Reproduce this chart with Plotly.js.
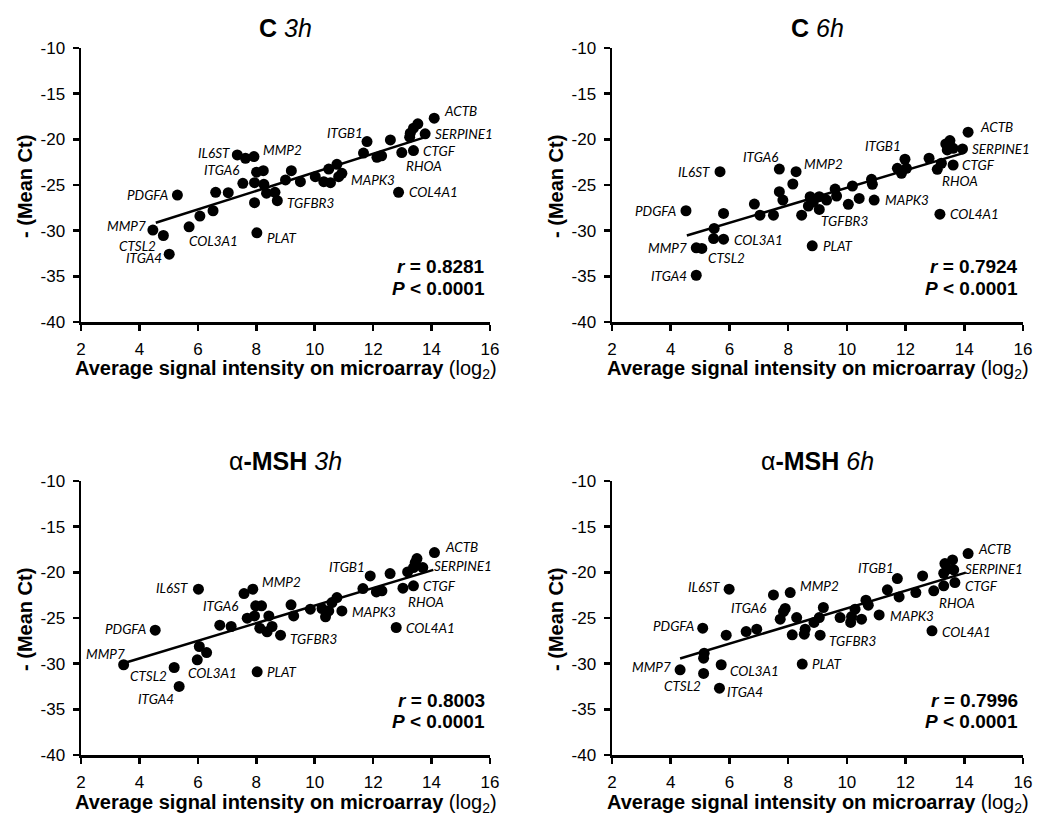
<!DOCTYPE html>
<html>
<head>
<meta charset="utf-8">
<script src="https://cdn.plot.ly/plotly-3.0.1.min.js"></script>
<style>html,body{margin:0;padding:0;background:#fff;}#chart{width:1037px;height:816px;}</style>
</head>
<body>
<div id="chart"></div>
<script>
// ---------- DATA ----------
// Panel C 3h
const c3Gene = ["ACTB","","","","","SERPINE1","ITGB1","","","","","CTGF","RHOA","COL4A1","MAPK3","","","","","","","","","","TGFBR3","","","","","","","PLAT","","MMP2","","IL6ST","ITGA6","","","","","COL3A1","PDGFA","MMP7","CTSL2","ITGA4"];
const c3X = [14.09,13.53,13.38,13.27,13.25,13.78,11.79,12.59,11.67,12.13,12.29,13.38,12.98,12.87,10.93,10.76,10.48,10.31,10.54,10.82,10.02,9.51,9.2,9.0,8.72,8.64,8.35,8.26,7.94,8.01,8.24,8.02,7.94,7.92,7.63,7.35,7.54,7.04,6.61,6.52,6.07,5.7,5.3,4.46,4.82,5.02];
const c3Y = [-17.68,-18.3,-18.78,-19.33,-19.77,-19.4,-20.24,-20.06,-21.5,-21.97,-21.8,-21.23,-21.45,-25.8,-23.72,-22.73,-23.25,-24.64,-24.75,-24.09,-24.09,-24.64,-23.43,-24.45,-26.72,-25.8,-25.9,-24.93,-24.75,-23.6,-23.43,-30.23,-26.94,-21.89,-22.07,-21.71,-24.82,-25.84,-25.8,-27.82,-28.4,-29.58,-26.1,-29.94,-30.53,-32.58];
const c3FitX = [4.56, 13.84];
const c3FitY = [-29.14, -19.7];
const c3R = "0.8281";

// Panel C 6h
const c6Gene = ["ACTB","","","","","SERPINE1","CTGF","RHOA","","","ITGB1","","","","","","MAPK3","","","","","","","","TGFBR3","","","","","PLAT","MMP2","","ITGA6","","","","","","","IL6ST","COL3A1","","","PDGFA","MMP7","CTSL2","ITGA4","COL4A1"];
const c6X = [14.13,13.51,13.37,13.42,13.62,13.94,13.62,13.08,13.22,12.8,11.98,12.03,11.72,11.86,10.84,10.87,10.93,10.42,10.19,10.05,9.6,9.65,9.31,9.06,9.06,8.75,8.69,8.86,8.46,8.82,8.27,8.16,7.7,7.7,7.82,7.5,7.04,6.85,5.8,5.68,5.8,5.46,5.48,4.52,4.87,5.06,4.87,13.17];
const c6Y = [-19.22,-20.14,-20.5,-21.16,-20.98,-21.05,-22.81,-23.28,-22.62,-22.07,-22.18,-23.17,-23.17,-23.72,-24.38,-24.93,-26.65,-26.47,-25.11,-27.12,-25.44,-26.21,-26.65,-26.28,-27.67,-26.28,-27.3,-26.83,-28.3,-31.66,-23.54,-24.89,-23.25,-25.73,-26.65,-28.3,-28.3,-27.09,-28.11,-23.54,-30.93,-30.86,-29.76,-27.82,-31.88,-31.95,-34.88,-28.19];
const c6FitX = [4.55, 14.02];
const c6FitY = [-30.53, -21.45];
const c6R = "0.7924";

// Panel alpha-MSH 3h
const m3Gene = ["ACTB","","","","SERPINE1","","ITGB1","","","","","CTGF","RHOA","COL4A1","MAPK3","","","","","","","","","TGFBR3","","","","","","","ITGA6","","MMP2","","PLAT","","","","","COL3A1","IL6ST","PDGFA","MMP7","CTSL2","ITGA4"];
const m3X = [14.1,13.5,13.44,13.38,13.7,13.18,11.9,12.58,11.65,12.11,12.3,13.38,13.02,12.79,10.93,10.76,10.59,10.48,10.37,10.25,9.85,9.28,9.19,8.83,8.54,8.37,8.43,8.18,7.98,7.94,7.69,8.12,7.88,7.58,8.03,7.14,6.75,6.3,6.05,5.98,6.02,4.54,3.46,5.19,5.36];
const m3Y = [-17.84,-18.49,-18.93,-19.48,-19.48,-19.95,-20.39,-20.13,-21.78,-22.14,-22.03,-21.48,-21.74,-26.04,-24.22,-22.76,-23.31,-24.22,-24.87,-23.96,-24.04,-24.77,-23.56,-26.88,-25.93,-26.51,-24.77,-23.67,-23.67,-24.77,-25.02,-26.11,-21.85,-22.32,-30.89,-25.93,-25.79,-28.78,-28.12,-29.58,-21.85,-26.33,-30.12,-30.42,-32.49];
const m3FitX = [3.54, 14.06];
const m3FitY = [-29.87, -19.73];
const m3R = "0.8003";

// Panel alpha-MSH 6h
const m6Gene = ["ACTB","","","","SERPINE1","","CTGF","","RHOA","","ITGB1","","","","","","MAPK3","","","","","","","","","TGFBR3","","","","","MMP2","","","ITGA6","","","","","IL6ST","PLAT","COL3A1","","","PDGFA","MMP7","CTSL2","ITGA4","COL4A1"];
const m6X = [14.13,13.6,13.34,13.42,13.64,13.3,13.68,13.3,12.96,12.58,11.72,11.38,11.78,12.35,10.65,10.73,11.1,10.5,10.28,10.16,10.13,9.77,9.2,9.06,8.88,9.09,8.58,8.55,8.29,8.14,8.07,7.9,7.84,7.73,7.5,6.93,6.57,5.89,5.99,8.48,5.72,5.14,5.12,5.09,4.32,5.12,5.66,12.9];
const m6Y = [-17.95,-18.64,-19.04,-19.66,-19.73,-20.1,-21.12,-21.48,-22.03,-20.39,-20.68,-21.92,-22.69,-22.21,-23.05,-23.6,-24.66,-25.13,-24.04,-24.84,-25.49,-24.95,-23.85,-24.95,-25.49,-26.88,-26.22,-26.77,-24.95,-26.84,-22.21,-23.96,-24.29,-25.13,-22.47,-26.22,-26.48,-26.88,-21.85,-30.05,-30.12,-28.85,-29.4,-26.11,-30.67,-31.07,-32.68,-26.4];
const m6FitX = [4.32, 14.05];
const m6FitY = [-29.43, -20.03];
const m6R = "0.7996";

// Tick labels
const xTickVals = [2, 4, 6, 8, 10, 12, 14, 16];
const xTickText = ["2", "4", "6", "8", "10", "12", "14", "16"];
const yTickVals = [-40, -35, -30, -25, -20, -15, -10];
const yTickText = ["-40", "-35", "-30", "-25", "-20", "-15", "-10"];

const panelTitles = ["<b>C</b> <i>3h</i>", "<b>C</b> <i>6h</i>", "α<b>-MSH</b> <i>3h</i>", "α<b>-MSH</b> <i>6h</i>"];
const xTitle = "<b>Average signal intensity on microarray</b> (log<sub>2</sub>)";
const yTitle = "<b>- (Mean Ct)</b>";
const pText = "<b><i>P</i> < 0.0001</b>";

// ---------- LABEL OFFSETS (px: anchor, dx, dy down-positive) ----------
const off1 = {ACTB:["left",8,-7],SERPINE1:["left",8,0],ITGB1:["right",-2,-9],CTGF:["left",8,0],RHOA:["left",2,13],MAPK3:["left",7,7],COL4A1:["left",8,0],TGFBR3:["left",8,2],PLAT:["left",8,5],IL6ST:["right",-5,-2],MMP2:["left",7,-7],ITGA6:["right",-2,-13],PDGFA:["right",-7,0],MMP7:["right",-5,-4],CTSL2:["right",-5,10],COL3A1:["left",-2,14],ITGA4:["right",-5,4]};
const off2 = {ACTB:["left",10,-5],SERPINE1:["left",7,0],ITGB1:["right",-2,-13],CTGF:["left",7,0],RHOA:["left",3,12],MAPK3:["left",9,0],COL4A1:["left",8,0],TGFBR3:["left",0,12],PLAT:["left",9,0],IL6ST:["right",-8,0],MMP2:["left",6,-8],ITGA6:["right",1,-12],PDGFA:["right",-8,0],MMP7:["right",-7,0],CTSL2:["left",4,10],COL3A1:["left",8,1],ITGA4:["right",-7,1]};
const off3 = {ACTB:["left",9,-6],SERPINE1:["left",9,-2],ITGB1:["right",-3,-9],CTGF:["left",8,0],RHOA:["left",3,14],MAPK3:["left",8,1],COL4A1:["left",8,0],TGFBR3:["left",7,4],PLAT:["left",8,0],IL6ST:["right",-8,-1],MMP2:["left",7,-7],ITGA6:["right",-7,-12],PDGFA:["right",-7,-1],MMP7:["right",3,-11],CTSL2:["right",-5,8],COL3A1:["left",-11,13],ITGA4:["right",-3,13]};
const off4 = {ACTB:["left",8,-5],SERPINE1:["left",9,-1],ITGB1:["right",-1,-11],CTGF:["left",8,3],RHOA:["left",3,12],MAPK3:["left",9,1],COL4A1:["left",8,1],TGFBR3:["left",7,6],PLAT:["left",8,0],IL6ST:["right",-7,-2],MMP2:["left",8,-7],ITGA6:["right",-12,-11],PDGFA:["right",-7,-2],MMP7:["right",-7,-3],CTSL2:["right",-1,13],COL3A1:["left",7,6],ITGA4:["left",6,4]};

// ---------- LAYOUT GEOMETRY ----------
const W = 1037, H = 816;
const panels = [
  {gene:c3Gene, x:c3X, y:c3Y, fx:c3FitX, fy:c3FitY, r:c3R, off:off1, px:[81,490], py:[48,322]},
  {gene:c6Gene, x:c6X, y:c6Y, fx:c6FitX, fy:c6FitY, r:c6R, off:off2, px:[612,1023], py:[48,322]},
  {gene:m3Gene, x:m3X, y:m3Y, fx:m3FitX, fy:m3FitY, r:m3R, off:off3, px:[81,490], py:[481,755]},
  {gene:m6Gene, x:m6X, y:m6Y, fx:m6FitX, fy:m6FitY, r:m6R, off:off4, px:[612,1023], py:[481,755]}
];

const tickFont = {family:"Liberation Sans, Arial, sans-serif", size:17, color:"#000"};
const labelFont = {family:"Lato, 'Open Sans', sans-serif", size:13.5, color:"#000"};
const traces = [];
const annotations = [];
const layout = {
  width:W, height:H, margin:{l:0,r:0,t:0,b:0}, showlegend:false,
  paper_bgcolor:"#fff", plot_bgcolor:"rgba(0,0,0,0)",
  font:{family:"Liberation Sans, Arial, sans-serif", color:"#000"}
};

panels.forEach((p, i) => {
  const n = i === 0 ? "" : String(i + 1);
  const xa = "x" + n, ya = "y" + n;
  const axBase = {showline:true, linecolor:"#000", linewidth:2.5, ticks:"outside", ticklen:6, tickwidth:2.5,
    tickcolor:"#000", showgrid:false, zeroline:false, tickfont:tickFont, fixedrange:true, ticklabelstandoff:4,
    tickmode:"array"};
  layout["xaxis" + n] = Object.assign({}, axBase, {range:[2,16], tickvals:xTickVals, ticktext:xTickText, anchor:ya,
    domain:[p.px[0]/W, p.px[1]/W]});
  layout["yaxis" + n] = Object.assign({}, axBase, {range:[-40,-10], tickvals:yTickVals, ticktext:yTickText, anchor:xa,
    domain:[1 - p.py[1]/H, 1 - p.py[0]/H]});

  traces.push({type:"scatter", mode:"lines", x:p.fx, y:p.fy, xaxis:xa, yaxis:ya,
    line:{color:"#000", width:2.5}, hoverinfo:"skip"});
  traces.push({type:"scatter", mode:"markers", x:p.x, y:p.y, xaxis:xa, yaxis:ya, text:p.gene,
    marker:{color:"#000", size:11, line:{width:0}}, cliponaxis:false});

  p.gene.forEach((g, k) => {
    if (!g) return;
    const o = p.off[g];
    annotations.push({xref:xa, yref:ya, x:p.x[k], y:p.y[k], text:"<i>" + g + "</i>", showarrow:false,
      xanchor:o[0], yanchor:"middle", xshift:o[1], yshift:-o[2], font:labelFont});
  });

  const cx = (p.px[0] + p.px[1]) / 2 / W;
  annotations.push({xref:"paper", yref:"paper", x:cx, y:1 - (p.py[0] - 20)/H, text:panelTitles[i],
    showarrow:false, xanchor:"center", yanchor:"middle", font:{size:25, color:"#000", family:"Liberation Sans, Arial, sans-serif"}});
  annotations.push({xref:"paper", yref:"paper", x:cx, y:1 - (p.py[1] + 48)/H, text:xTitle,
    showarrow:false, xanchor:"center", yanchor:"middle", font:{size:20, color:"#000", family:"Liberation Sans, Arial, sans-serif"}});
  annotations.push({xref:"paper", yref:"paper", x:(p.px[0] - 56)/W, y:1 - ((p.py[0] + p.py[1])/2 + 2)/H, text:yTitle,
    textangle:-90, showarrow:false, xanchor:"center", yanchor:"middle", font:{size:20, color:"#000", family:"Liberation Sans, Arial, sans-serif"}});
  annotations.push({xref:"paper", yref:"paper", x:(p.px[1] - 3)/W, y:1 - (p.py[0] + 219)/H,
    text:"<b><i>r</i> = " + p.r + "</b>", showarrow:false, xanchor:"right", yanchor:"middle",
    font:{size:19, color:"#000", family:"Liberation Sans, Arial, sans-serif"}});
  annotations.push({xref:"paper", yref:"paper", x:(p.px[1] - 3)/W, y:1 - (p.py[0] + 240)/H,
    text:pText, showarrow:false, xanchor:"right", yanchor:"middle",
    font:{size:19, color:"#000", family:"Liberation Sans, Arial, sans-serif"}});
});

layout.annotations = annotations;
Plotly.newPlot("chart", traces, layout, {displayModeBar:false, staticPlot:true});
</script>
</body>
</html>
